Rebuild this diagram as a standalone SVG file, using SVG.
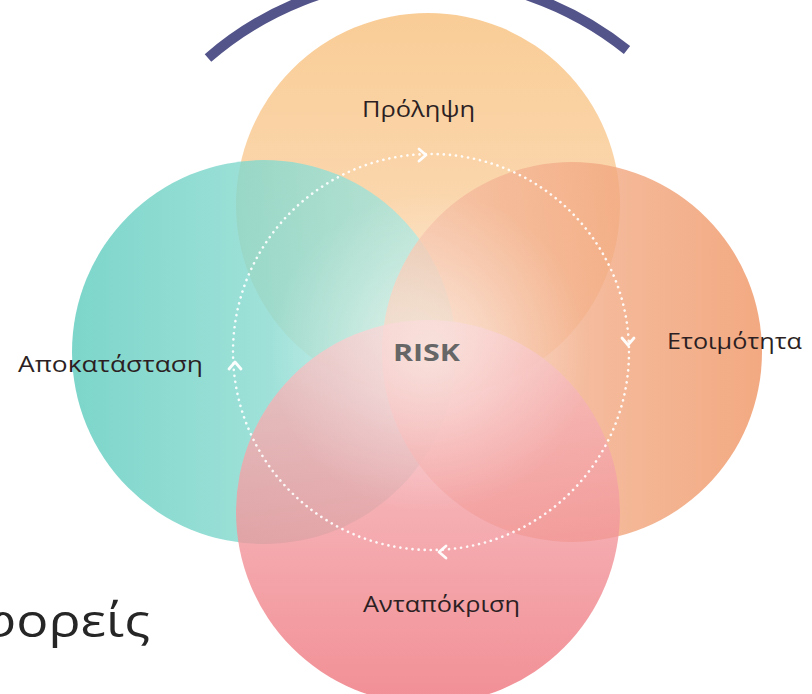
<svg xmlns="http://www.w3.org/2000/svg" width="812" height="694" viewBox="0 0 812 694">
  <style>
    .petal { opacity: 0.8; }
    .lbl { font-family: "Open Sans", "Noto Sans", "DejaVu Sans", sans-serif; font-size: 22px; fill: #2c1f23; }
    .ring { fill: none; stroke: #ffffff; stroke-width: 2.6; stroke-linecap: round; stroke-dasharray: 0.1 6; opacity: 0.9; }
    .chev { fill: none; stroke: #ffffff; stroke-width: 2.8; stroke-linecap: round; stroke-linejoin: round; opacity: 0.95; }
  </style>
  <defs>
    <linearGradient id="gTop" x1="0" y1="0" x2="0" y2="1">
      <stop offset="0" stop-color="#f8c07c"/>
      <stop offset="1" stop-color="#fbd9b6"/>
    </linearGradient>
    <linearGradient id="gRight" x1="1" y1="0" x2="0" y2="0">
      <stop offset="0" stop-color="#ef9462"/>
      <stop offset="1" stop-color="#f6c4ac"/>
    </linearGradient>
    <linearGradient id="gLeft" x1="0" y1="0" x2="1" y2="0">
      <stop offset="0" stop-color="#5ccbbd"/>
      <stop offset="1" stop-color="#b0e8e1"/>
    </linearGradient>
    <linearGradient id="gBottom" x1="0" y1="0" x2="0" y2="1">
      <stop offset="0" stop-color="#f7c2c4"/>
      <stop offset="1" stop-color="#ee737b"/>
    </linearGradient>
    <radialGradient id="gGlow" cx="0.5" cy="0.5" r="0.5">
      <stop offset="0" stop-color="#fbf8f0" stop-opacity="0.6"/>
      <stop offset="0.6" stop-color="#ffffff" stop-opacity="0.2"/>
      <stop offset="1" stop-color="#ffffff" stop-opacity="0"/>
    </radialGradient>
  </defs>

  <g id="arc">
    <path d="M 208 58 A 327 327 0 0 1 627 50" fill="none" stroke="#53548a" stroke-width="10"/>
  </g>

  <g id="node-top">
    <circle class="petal" cx="428" cy="205" r="192" fill="url(#gTop)"/>
  </g>
  <g id="node-left">
    <circle class="petal" cx="264" cy="352" r="192" fill="url(#gLeft)"/>
  </g>
  <g id="node-right">
    <circle class="petal" cx="572" cy="352" r="190" fill="url(#gRight)"/>
  </g>
  <g id="node-bottom">
    <circle class="petal" cx="428" cy="512" r="192" fill="url(#gBottom)"/>
  </g>

  <g id="node-risk">
    <circle cx="430" cy="352" r="160" fill="url(#gGlow)"/>
    <text x="393" y="361" textLength="67" lengthAdjust="spacingAndGlyphs" style="font-family:'Open Sans','Noto Sans',sans-serif;font-size:24px;font-weight:bold;fill:#666666">RISK</text>
  </g>

  <g id="connectors">
    <circle class="ring" cx="431" cy="352" r="198"/>
    <path class="chev" d="M419 149 L426 155 L419 161"/>
    <path class="chev" d="M622 338 L628 345 L634 338"/>
    <path class="chev" d="M446 546 L439 552 L446 558"/>
    <path class="chev" d="M229 369 L235 362 L241 369"/>
  </g>

  <g id="labels">
    <text class="lbl" x="362" y="117" font-size="20" textLength="113" lengthAdjust="spacingAndGlyphs">Πρόληψη</text>
    <text class="lbl" x="667" y="349" textLength="135" lengthAdjust="spacingAndGlyphs">Ετοιμότητα</text>
    <text class="lbl" x="18" y="372" textLength="185" lengthAdjust="spacingAndGlyphs">Αποκατάσταση</text>
    <text class="lbl" x="363" y="612" textLength="157" lengthAdjust="spacingAndGlyphs">Ανταπόκριση</text>
  </g>

  <g id="caption">
    <text x="-22" y="637" textLength="172" lengthAdjust="spacingAndGlyphs" style="font-family:'Open Sans','Noto Sans',sans-serif;font-size:46px;fill:#262626">φορείς</text>
  </g>
</svg>
